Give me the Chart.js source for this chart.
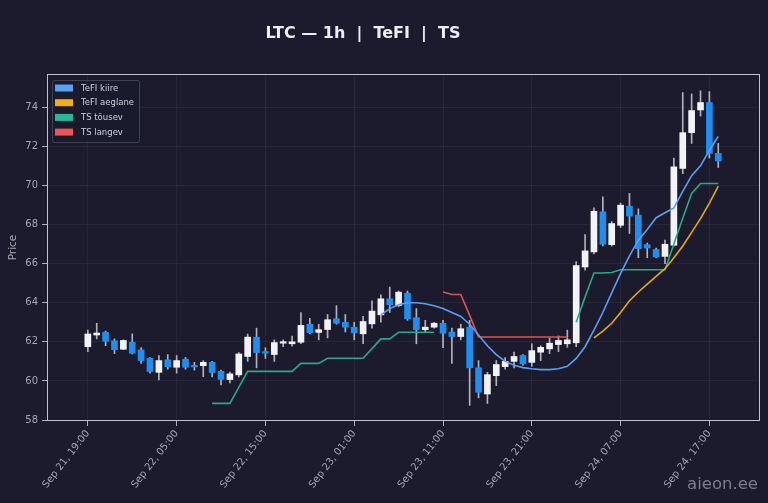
<!DOCTYPE html>
<html>
<head>
<meta charset="utf-8">
<script src="https://cdn.jsdelivr.net/npm/chart.js@4"></script>
<style>
  html, body { margin: 0; padding: 0; background: #1b1b2d; }
  #wrap { width: 768px; height: 503px; }
</style>
</head>
<body>
<div id="wrap"><canvas id="chart" width="768" height="503"></canvas></div>
<script>
// hourly candles, Sep 21 19:00 -> Sep 24 18:00
var tickLabels = ['Sep 21, 19:00', 'Sep 22, 05:00', 'Sep 22, 15:00', 'Sep 23, 01:00',
                  'Sep 23, 11:00', 'Sep 23, 21:00', 'Sep 24, 07:00', 'Sep 24, 17:00'];
var tickEvery = 10;
var yTicks = [58, 60, 62, 64, 66, 68, 70, 72, 74];

var open  = [61.75,62.35,62.48,62.05,61.62,61.98,61.59,61.16,60.44,61.08,60.70,61.11,60.78,60.78,60.95,60.49,60.07,60.31,61.25,62.24,
             61.50,61.35,61.93,61.90,61.98,62.90,62.48,62.63,63.18,63.00,62.75,62.41,62.92,63.38,64.20,63.86,64.49,63.23,62.62,62.75,
             62.95,62.50,62.27,62.75,60.67,59.33,60.27,60.73,61.00,61.30,60.95,61.47,61.64,61.86,61.90,61.95,65.83,66.60,68.65,66.97,
             67.96,68.94,68.48,66.97,66.72,66.37,66.94,70.87,72.70,73.86,74.24,71.64];
var high  = [62.60,62.95,62.55,62.15,62.10,62.41,61.70,61.20,61.30,61.35,61.30,61.20,60.95,61.04,61.00,60.56,60.45,61.45,62.40,62.70,
             61.70,62.10,62.10,62.30,63.50,63.20,62.90,63.40,63.85,63.40,63.00,63.30,64.10,64.40,64.80,64.60,64.60,63.70,63.10,63.00,
             63.10,62.70,62.90,63.10,61.04,60.44,61.04,61.20,61.47,61.35,61.90,61.80,62.20,62.30,62.60,66.10,67.49,68.85,69.42,68.15,
             69.10,69.59,68.80,67.05,66.80,67.20,71.40,74.75,74.68,74.84,74.80,72.15];
var low   = [61.50,62.15,61.80,61.40,61.60,61.38,60.90,60.40,60.05,60.60,60.40,60.60,60.55,60.22,60.20,59.80,59.90,60.20,61.00,60.67,
             61.15,61.00,61.75,61.78,61.90,62.40,62.10,62.20,62.90,62.50,62.10,61.90,62.70,63.00,63.50,63.80,63.10,61.90,62.50,62.70,
             61.70,60.90,62.10,58.75,59.13,58.85,59.76,60.60,60.67,60.80,60.75,61.04,61.40,61.50,61.72,61.75,65.66,66.50,66.90,66.90,
             67.85,67.54,66.30,66.30,66.30,66.00,66.90,70.60,72.15,73.55,71.40,70.92];
var close = [62.40,62.45,62.03,61.60,62.07,61.42,61.04,60.48,61.04,60.73,61.04,60.70,60.72,60.95,60.43,60.08,60.36,61.38,62.24,61.45,
             61.42,61.96,61.98,62.00,62.84,62.47,62.62,63.13,62.95,62.75,62.46,63.04,63.57,64.20,63.90,64.54,63.18,62.62,62.75,62.95,
             62.44,62.27,62.67,60.67,59.42,60.32,60.84,61.00,61.25,60.87,61.55,61.72,61.93,62.07,62.10,65.90,66.65,68.68,66.99,68.05,
             68.99,68.43,66.77,66.80,66.34,66.99,70.95,72.70,73.83,74.24,71.64,71.25];

var n = null;
var tefiFast = [n,n,n,n,n,n,n,n,n,n, n,n,n,n,n,n,n,n,n,n, n,n,n,n,n,n,n,n,n,n, n,n,n,
                63.38,63.70,63.90,64.00,64.00,63.95,63.85,63.70,63.50,63.30,62.90,62.35,61.80,61.35,61.00,60.80,60.68,
                60.62,60.58,60.58,60.62,60.75,61.15,61.75,62.60,63.50,64.50,65.50,66.40,67.20,67.75,68.35,68.60,68.85,
                69.70,70.50,71.00,71.80,72.50];
var tefiSlow = [n,n,n,n,n,n,n,n,n,n, n,n,n,n,n,n,n,n,n,n, n,n,n,n,n,n,n,n,n,n, n,n,n,n,n,n,n,n,n,n,
                n,n,n,n,n,n,n,n,n,n, n,n,n,n,n,n,n,
                62.20,62.55,62.95,63.50,64.10,64.55,64.95,65.35,65.74,66.30,66.90,67.60,68.30,69.10,69.96];
var tsUp = [n,n,n,n,n,n,n,n,n,n, n,n,n,n,
            58.85,58.85,58.85,59.67,60.49,60.49,60.49,60.49,60.49,60.49,60.90,60.90,60.90,61.16,61.16,61.16,
            61.16,61.16,61.65,62.15,62.15,62.49,62.49,62.49,62.49,62.49,
            n,n,n,n,n,n,n,n,n,n,n,n,n,n,n,
            63.00,64.30,65.52,65.52,65.55,65.69,65.69,65.69,65.69,65.69,65.69,67.00,68.32,69.59,70.10,70.10,70.10];
var tsDown = [n,n,n,n,n,n,n,n,n,n, n,n,n,n,n,n,n,n,n,n, n,n,n,n,n,n,n,n,n,n, n,n,n,n,n,n,n,n,n,n,
              64.55,64.42,64.42,63.35,62.25,62.25,62.25,62.25,62.25,62.25,62.25,62.25,62.25,62.25,62.25,
              n,n,n,n,n,n,n,n,n,n,n,n,n,n,n,n,n];

var upColor = '#f2f2f6';
var downColor = '#1e8ff0';
var wickColor = '#b2b2bc';
var textColor = '#a6a6b2';
var gridColor = 'rgba(255,255,255,0.05)';

function pts(arr) {
    return arr.map(function (v, i) { return { x: i, y: v }; });
}

var lineStyle = { type: 'line', borderWidth: 1.6, pointRadius: 0, tension: 0, spanGaps: false, order: 0 };

var datasets = [
    Object.assign({ label: 'TeFI kiire', data: pts(tefiFast), borderColor: '#5b9ff2', backgroundColor: '#5b9ff2' }, lineStyle),
    Object.assign({ label: 'TeFI aeglane', data: pts(tefiSlow), borderColor: '#e8a815', backgroundColor: '#f0b010' }, lineStyle),
    Object.assign({ label: 'TS tõusev', data: pts(tsUp), borderColor: '#2ba888', backgroundColor: '#2bb89a' }, lineStyle),
    Object.assign({ label: 'TS langev', data: pts(tsDown), borderColor: '#e05252', backgroundColor: '#ee5555' }, lineStyle),
    {
        type: 'bar', label: 'body',
        data: open.map(function (o, i) { return { x: i, y: [o, close[i]] }; }),
        backgroundColor: open.map(function (o, i) { return close[i] >= o ? upColor : downColor; }),
        barThickness: 6, minBarLength: 1.5, grouped: false, order: 1
    },
    {
        type: 'bar', label: 'wick',
        data: low.map(function (l, i) { return { x: i, y: [l, high[i]] }; }),
        backgroundColor: wickColor,
        barThickness: 1, grouped: false, order: 2
    }
];

// background, frame, title, legend and watermark
var decor = {
    id: 'decor',
    beforeDraw: function (chart) {
        var c = chart.ctx;
        c.save();
        c.fillStyle = '#1b1b2d';
        c.fillRect(0, 0, chart.width, chart.height);
        c.restore();
    },
    afterDraw: function (chart) {
        var c = chart.ctx, a = chart.chartArea;
        c.save();
        c.strokeStyle = '#c2c2ca';
        c.lineWidth = 1;
        c.strokeRect(a.left + 0.5, a.top + 0.5, a.right - a.left - 1, a.bottom - a.top - 1);

        c.fillStyle = '#ececf2';
        c.font = 'bold 16px "DejaVu Sans"';
        c.textAlign = 'center';
        c.textBaseline = 'middle';
        c.fillText('LTC \u2014 1h  |  TeFI  |  TS', 363, 34);

        // legend box
        var lx = a.left + 5, ly = a.top + 6, lw = 87, lh = 62;
        c.fillStyle = 'rgba(27,27,45,0.9)';
        c.strokeStyle = 'rgba(200,200,215,0.22)';
        c.beginPath();
        c.roundRect(lx + 0.5, ly + 0.5, lw, lh, 2);
        c.fill();
        c.stroke();
        c.font = '8.5px "DejaVu Sans"';
        c.textAlign = 'left';
        for (var k = 0; k < 4; k++) {
            var ds = chart.data.datasets[k];
            var yy = ly + 8 + k * 14.7;
            c.fillStyle = ds.backgroundColor;
            c.fillRect(lx + 3, yy - 3.5, 18, 7);
            c.fillStyle = '#cfcfd8';
            c.fillText(ds.label, lx + 29, yy + 0.5);
        }

        c.fillStyle = 'rgba(200,200,212,0.55)';
        c.font = '16.5px "DejaVu Sans"';
        c.textAlign = 'right';
        c.fillText('aieon.ee', 758, 485);
        c.restore();
    }
};

new Chart(document.getElementById('chart'), {
    type: 'bar',
    data: { datasets: datasets },
    plugins: [decor],
    options: {
        responsive: false,
        animation: false,
        layout: { padding: { top: 74, right: 8, left: 0, bottom: 0 } },
        plugins: { legend: { display: false }, tooltip: { enabled: false }, title: { display: false } },
        scales: {
            x: {
                type: 'linear', min: -4.6, max: 75.7, offset: false,
                afterBuildTicks: function (s) {
                    s.ticks = tickLabels.map(function (_, k) { return { value: k * tickEvery }; });
                },
                afterFit: function (s) { s.height = 82; },
                ticks: {
                    callback: function (v) { return tickLabels[Math.round(v / tickEvery)]; },
                    color: textColor, font: { family: 'DejaVu Sans', size: 10 },
                    minRotation: 52, maxRotation: 52, autoSkip: false, padding: 2
                },
                grid: { color: gridColor, offset: false, tickColor: '#b0b0b8', tickLength: 5 },
                border: { display: false }
            },
            y: {
                min: 57.95, max: 75.7,
                afterBuildTicks: function (s) {
                    s.ticks = yTicks.map(function (v) { return { value: v }; });
                },
                afterFit: function (s) { s.width = 47; },
                ticks: { color: textColor, font: { family: 'DejaVu Sans', size: 10 }, padding: 4 },
                grid: { color: gridColor, tickColor: '#b0b0b8', tickLength: 5 },
                border: { display: false },
                title: { display: true, text: 'Price', color: textColor, font: { family: 'DejaVu Sans', size: 10.5 }, padding: { top: 7, bottom: 0 } }
            }
        }
    }
});
</script>
</body>
</html>
